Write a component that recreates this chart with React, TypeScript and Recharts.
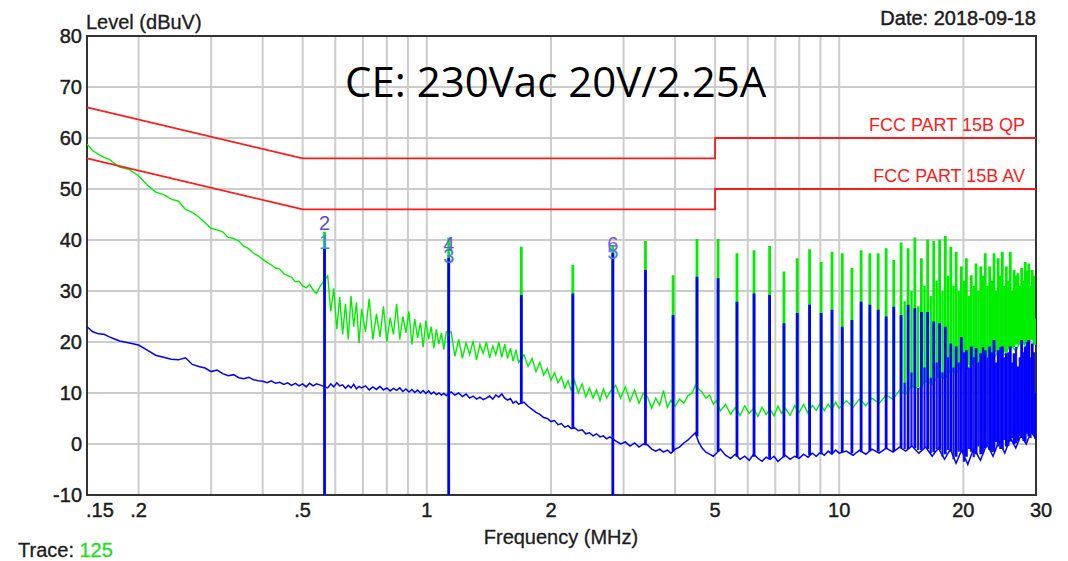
import React from 'react';
import { LineChart, Line, XAxis, YAxis, CartesianGrid, ReferenceArea, ReferenceDot } from 'recharts';

// ---- noise floor, region A (0.15 - 0.55 MHz)
const freqA = [0.15, 0.155, 0.16, 0.165, 0.17, 0.175, 0.18, 0.19, 0.2, 0.21, 0.22, 0.23, 0.24, 0.25, 0.26, 0.27, 0.28, 0.29, 0.30, 0.31, 0.32, 0.33, 0.34, 0.35, 0.36, 0.37, 0.38, 0.39, 0.40, 0.41, 0.42, 0.43, 0.44, 0.45, 0.46, 0.47, 0.48, 0.49, 0.50, 0.51, 0.52, 0.53, 0.54, 0.55];
const greenA = [58.8, 57.5, 56.8, 56.2, 55.8, 55.0, 54.3, 53.8, 52.6, 50.8, 49.4, 48.9, 48.0, 47.6, 46.0, 45.4, 44.5, 43.4, 42.3, 42.0, 41.6, 40.5, 40.3, 39.8, 38.8, 38.3, 37.4, 36.9, 36.2, 35.6, 35.1, 34.5, 34.3, 33.4, 33.0, 32.7, 31.8, 31.9, 31.0, 30.6, 31.3, 30.2, 29.5, 30.8];
const blueA = [23.0, 22.0, 21.6, 21.5, 21.0, 20.6, 20.2, 19.8, 19.4, 18.4, 17.4, 17.0, 16.6, 16.5, 16.9, 15.6, 15.2, 14.9, 14.2, 14.5, 13.8, 13.4, 13.6, 13.0, 12.8, 13.1, 12.6, 12.4, 12.3, 12.0, 12.4, 11.9, 12.1, 11.7, 12.0, 11.5, 11.9, 11.4, 11.8, 11.2, 11.9, 11.4, 11.8, 11.6];

// ---- region B (0.575 - 1.115 MHz)
const freqB = [0.575, 0.585, 0.595, 0.605, 0.615, 0.625, 0.635, 0.645, 0.655, 0.665, 0.675, 0.685, 0.695, 0.71, 0.725, 0.74, 0.755, 0.77, 0.785, 0.80, 0.815, 0.83, 0.845, 0.86, 0.875, 0.89, 0.905, 0.92, 0.935, 0.95, 0.965, 0.98, 0.995, 1.01, 1.025, 1.04, 1.055, 1.07, 1.085, 1.10, 1.115];
const greenB = [33.0, 26.0, 30.5, 22.5, 28.8, 21.5, 27.5, 20.5, 29.0, 23.0, 27.8, 19.8, 26.5, 22.0, 28.5, 20.5, 25.5, 21.0, 27.0, 20.0, 24.8, 21.5, 27.5, 20.5, 25.0, 21.8, 26.0, 19.5, 24.5, 20.8, 23.8, 19.0, 24.2, 20.5, 23.0, 18.8, 22.5, 19.6, 21.8, 18.5, 22.0];
const blueB = [11.0, 11.8, 11.2, 12.0, 11.4, 11.6, 10.9, 11.5, 11.0, 11.7, 10.8, 11.3, 11.0, 11.4, 10.6, 11.2, 10.7, 11.3, 10.6, 11.0, 10.4, 10.9, 10.5, 11.0, 10.3, 10.8, 10.2, 10.7, 10.1, 10.6, 10.0, 10.5, 9.9, 10.4, 9.8, 10.2, 9.7, 10.0, 9.6, 9.9, 9.5];

// ---- region C (1.145 - 2.78 MHz)
const freqC = [1.145, 1.17, 1.195, 1.22, 1.245, 1.27, 1.295, 1.32, 1.345, 1.37, 1.395, 1.42, 1.445, 1.47, 1.495, 1.52, 1.545, 1.57, 1.595, 1.62, 1.645, 1.67, 1.72, 1.76, 1.80, 1.84, 1.88, 1.92, 1.96, 2.00, 2.04, 2.08, 2.12, 2.16, 2.20, 2.24, 2.28, 2.33, 2.38, 2.43, 2.48, 2.53, 2.58, 2.63, 2.68, 2.73, 2.78];
const greenC = [22.0, 17.2, 20.5, 16.8, 19.8, 17.5, 20.2, 16.5, 19.5, 17.8, 20.0, 16.9, 19.2, 17.5, 20.0, 17.0, 19.6, 16.8, 18.8, 16.2, 18.5, 16.0, 17.5, 15.2, 16.8, 14.2, 16.0, 13.5, 14.8, 12.5, 14.0, 12.0, 13.2, 11.0, 12.4, 10.5, 12.5, 10.0, 11.8, 9.2, 11.0, 9.0, 10.6, 8.5, 10.8, 9.0, 10.2];
const blueC = [10.2, 9.6, 10.0, 9.3, 9.8, 9.0, 9.4, 8.8, 9.2, 8.7, 9.0, 9.4, 8.8, 9.6, 9.2, 9.8, 9.0, 8.6, 8.9, 8.0, 8.4, 7.8, 8.2, 7.4, 6.8, 6.2, 5.8, 5.2, 5.0, 4.4, 4.6, 3.8, 4.0, 3.3, 3.6, 3.0, 3.2, 2.6, 2.8, 2.0, 2.2, 1.6, 2.0, 1.4, 1.6, 1.0, 1.4];

// ---- region D (2.87 - 10 MHz)
const freqD = [2.87, 2.95, 3.03, 3.11, 3.19, 3.27, 3.35, 3.43, 3.51, 3.59, 3.67, 3.75, 3.83, 3.91, 4.0, 4.1, 4.2, 4.3, 4.4, 4.48, 4.56, 4.65, 4.75, 4.85, 4.95, 5.04, 5.15, 5.3, 5.45, 5.6, 5.75, 5.9, 6.05, 6.2, 6.35, 6.5, 6.65, 6.8, 6.95, 7.1, 7.25, 7.4, 7.6, 7.8, 8.0, 8.2, 8.4, 8.6, 8.8, 9.0, 9.2, 9.4, 9.6, 9.8, 10.0];
const greenD = [11.5, 9.0, 11.2, 8.4, 10.6, 8.0, 10.0, 9.2, 7.0, 9.0, 7.6, 10.5, 7.2, 8.6, 7.4, 8.8, 8.0, 9.5, 10.0, 11.5, 10.8, 10.2, 9.0, 9.6, 7.8, 8.5, 6.5, 7.8, 5.8, 7.2, 5.6, 7.5, 6.0, 7.0, 5.4, 7.2, 5.8, 6.8, 5.5, 7.4, 6.0, 7.0, 5.6, 7.5, 6.2, 7.8, 6.0, 7.6, 6.6, 8.0, 6.5, 7.8, 6.8, 8.2, 7.0];
const blueD = [0.6, 0.0, 0.4, -0.4, 0.2, -0.6, 0.0, -0.2, -1.0, -1.4, -1.0, -1.6, -1.2, -1.8, -1.0, -0.6, 0.2, 0.8, 1.6, 2.2, 0.4, -0.8, -1.6, -2.0, -2.4, -1.8, -1.0, -2.2, -2.8, -2.0, -3.0, -2.4, -3.2, -2.0, -2.8, -3.4, -2.6, -3.0, -2.4, -3.4, -2.8, -2.2, -3.0, -2.4, -2.8, -2.0, -2.6, -1.8, -2.4, -1.6, -2.2, -1.4, -2.0, -1.2, -1.8];

// ---- region E (10.4 - 30 MHz)
const freqE = [10.4, 10.8, 11.2, 11.6, 12.0, 12.5, 13.0, 13.5, 14.0, 14.5, 15, 15.6, 16.2, 16.8, 17.4, 18, 18.6, 19.2, 19.8, 20.5, 21.2, 22, 22.8, 23.6, 24.4, 25.2, 26, 26.8, 27.6, 28.4, 29.2, 30];
const greenE = [8.5, 7.2, 8.8, 7.5, 9.0, 8.0, 9.6, 8.8, 10.5, 9.8, 11.5, 10.8, 12.5, 11.6, 13.5, 12.8, 14.5, 13.8, 15.6, 14.8, 16.5, 15.8, 17.5, 16.6, 18.5, 17.5, 19.5, 18.2, 20.5, 19.0, 21.0, 19.5];
const blueE = [-1.4, -2.2, -1.2, -2.0, -1.0, -1.8, -0.8, -1.6, -0.6, -1.4, -0.4, -1.8, -0.6, -2.4, -0.8, -3.0, -1.0, -3.8, -1.2, -4.0, -0.8, -3.2, 0.0, -2.4, 0.6, -1.8, 1.2, -0.8, 1.8, 0.0, 2.4, 1.0];

// ---- harmonic spikes
const harmonicFreq = [0.565, 1.13, 1.695, 2.26, 2.825, 3.39, 3.955, 4.52, 5.085, 5.65, 6.215, 6.78, 7.345, 7.91, 8.475, 9.04, 9.605, 10.17, 10.735, 11.3, 11.865, 12.43, 12.995, 13.56, 14.125, 14.69, 15.255, 15.82, 16.385, 16.95, 17.515, 18.08, 18.645, 19.21, 19.775, 20.34, 20.905, 21.47, 22.035, 22.6, 23.165, 23.73, 24.295, 24.86, 25.425, 25.99, 26.555, 27.12, 27.685, 28.25, 28.815, 29.38, 29.945];
const greenPeak = [41.6, 40.5, 38.7, 35.1, 39.0, 39.8, 33.1, 40.2, 40.2, 37.4, 38.0, 38.8, 33.8, 36.4, 38.2, 35.7, 37.7, 37.4, 34.5, 38.0, 37.4, 37.4, 38.4, 36.1, 39.5, 38.4, 40.5, 36.4, 40.1, 39.8, 40.1, 40.8, 38.7, 37.7, 34.8, 36.4, 33.1, 35.4, 34.8, 37.4, 34.8, 37.4, 36.4, 37.7, 34.8, 37.7, 34.1, 33.5, 34.5, 35.7, 35.4, 34.1, 24.6];
const greenBase = [29.5, 20.0, 16.5, 11.5, 10.0, 9.5, 8.0, 11.0, 8.0, 6.5, 6.5, 6.3, 6.5, 6.8, 6.8, 7.2, 7.2, 7.8, 7.8, 8.2, 8.5, 8.5, 9.2, 9.2, 10.0, 10.2, 11.0, 11.2, 12.0, 12.0, 13.0, 13.0, 14.0, 14.0, 15.0, 15.0, 15.5, 16.0, 16.0, 17.0, 17.0, 17.0, 18.0, 18.0, 18.0, 19.0, 19.0, 19.5, 20.0, 19.5, 20.0, 20.5, 19.5];
const bluePeak = [38.5, 36.5, 29.2, 29.5, 37.5, 34.1, 25.3, 32.8, 32.5, 27.9, 29.5, 29.2, 23.7, 25.7, 27.3, 25.7, 26.3, 23.0, 24.3, 27.9, 27.3, 26.3, 25.0, 26.9, 25.3, 27.3, 26.6, 25.9, 25.9, 24.0, 23.7, 23.0, 19.7, 19.1, 21.0, 18.4, 19.1, 18.8, 17.8, 18.4, 19.1, 20.4, 18.4, 19.1, 17.8, 19.1, 17.8, 15.2, 20.4, 19.1, 20.4, 19.7, 10.0];
const blueBase = [-10, -10, 8.0, 3.0, -10, -0.2, -1.4, 1.5, -1.5, -2.5, -2.5, -3.0, -2.6, -2.6, -2.2, -2.0, -1.8, -1.6, -1.8, -1.6, -1.4, -1.5, -1.0, -1.4, -0.8, -1.0, -0.8, -1.2, -1.0, -1.6, -1.2, -2.0, -1.5, -2.5, -1.5, -2.5, -1.5, -2.0, -2.0, -0.8, -1.2, -1.5, -0.5, -1.0, -0.5, 0.5, 0.0, 0.5, 1.2, 0.5, 1.5, 2.0, 1.0];

// ---- secondary spikes between harmonics (14 - 30 MHz)
const midFreq = [14.41, 14.97, 15.54, 16.10, 16.67, 17.23, 17.80, 18.36, 18.93, 19.49, 20.06, 20.62, 21.19, 21.75, 22.32, 22.88, 23.45, 24.01, 24.58, 25.14, 25.71, 26.27, 26.84, 27.40, 27.97, 28.53, 29.10, 29.66];
const greenMidPeak = [28, 30, 27, 31, 29, 32, 30, 33, 31, 30, 32, 29, 31, 30, 33, 31, 32, 30, 33, 31, 32, 30, 33, 31, 32, 34, 31, 33];
const greenMidBase = [10.2, 11.0, 11.2, 12.0, 12.0, 13.0, 13.0, 14.0, 14.0, 15.0, 15.0, 15.5, 16.0, 16.0, 17.0, 17.0, 17.0, 18.0, 18.0, 18.0, 19.0, 19.0, 19.5, 20.0, 19.5, 20.0, 20.5, 19.5];
const blueMidPeak = [12, 14, 11, 15, 13, 16, 14, 17, 15, 16, 18, 15, 17, 16, 19, 17, 18, 16, 19, 17, 18, 16, 19, 17, 18, 20, 17, 18];
const blueMidBase = [-1.0, -0.6, -1.2, -0.8, -1.8, -1.0, -2.5, -1.2, -3.0, -1.5, -3.5, -1.0, -2.6, -0.5, -2.0, 0.0, -1.6, 0.4, -1.0, 0.8, -0.4, 1.2, 0.2, 1.6, 0.6, 2.0, 1.2, 1.6];

// ---- limits
const limitFreq = [0.15, 0.5, 5, 5, 30];
const qpLimit = [66, 56, 56, 60, 60];
const avLimit = [56, 46, 46, 50, 50];

// ---- axes / grid
const xTicks = [0.15, 0.2, 0.5, 1, 2, 5, 10, 20, 30];
const xTickLabels = ['.15', '.2', '.5', '1', '2', '5', '10', '20', '30'];
const yTicks = [-10, 0, 10, 20, 30, 40, 50, 60, 70, 80];
const gridFreqs = [0.2, 0.3, 0.4, 0.5, 0.6, 0.7, 0.8, 0.9, 1, 2, 3, 4, 5, 6, 7, 8, 9, 10, 20];
const gridLevels = [0, 10, 20, 30, 40, 50, 60, 70];

// ---- markers
const markerLabels = ['2', '1', '4', '3', '6', '5'];
const markerFreq = [0.565, 0.565, 1.13, 1.13, 2.825, 2.825];
const markerLevel = [43.4, 39.6, 39.2, 36.9, 39.2, 37.6];
const markerColors = ['#5a4fd0', '#3f8be8', '#6a55d8', '#4a6fe0', '#7a5ad8', '#4a7fe8'];

const FONT = '"Liberation Sans", Arial, sans-serif';
const TXT = '#1c1c1c';

const pairs = (fs: number[], vs: number[]) => fs.map((f, i) => ({ f, v: vs[i] }));
const greenFloor = [
  ...pairs(freqA, greenA), ...pairs(freqB, greenB), ...pairs(freqC, greenC),
  ...pairs(freqD, greenD), ...pairs(freqE, greenE),
];
const blueFloor = [
  ...pairs(freqA, blueA), ...pairs(freqB, blueB), ...pairs(freqC, blueC),
  ...pairs(freqD, blueD), ...pairs(freqE, blueE),
];
const spikes = (fs: number[], base: number[], peak: number[]) =>
  fs.flatMap((f, i) => [
    { f, v: base[i] as number | null },
    { f, v: peak[i] as number | null },
    { f, v: null as number | null },
  ]);
const greenSpikes = spikes(harmonicFreq, greenBase, greenPeak);
const blueSpikes = spikes(harmonicFreq, blueBase, bluePeak);
const greenMidSpikes = spikes(midFreq, greenMidBase, greenMidPeak);
const blueMidSpikes = spikes(midFreq, blueMidBase, blueMidPeak);
const qpData = pairs(limitFreq, qpLimit);
const avData = pairs(limitFreq, avLimit);

const XTick = (props: any) => {
  const { x, y, payload } = props;
  const i = xTicks.indexOf(payload.value);
  let anchor: 'start' | 'middle' = 'middle';
  let dx = 0;
  if (i === 0) { anchor = 'start'; dx = -1; }
  if (i === xTicks.length - 1) { dx = 5; }
  return (
    <text x={x + dx} y={y + 22} textAnchor={anchor} fontFamily={FONT} fontSize={20} fill={TXT} stroke={TXT} strokeWidth={0.45}>
      {xTickLabels[i]}
    </text>
  );
};

const YTick = (props: any) => {
  const { x, y, payload } = props;
  return (
    <text x={x} y={y + 7} textAnchor="end" fontFamily={FONT} fontSize={20} fill={TXT} stroke={TXT} strokeWidth={0.45}>
      {payload.value}
    </text>
  );
};

const lineProps = { dot: false, activeDot: false, isAnimationActive: false, type: 'linear' as const };

export default function App() {
  return (
    <div style={{ position: 'absolute', left: 0, top: 0, width: 1068, height: 561, background: '#fff' }}>
      <LineChart width={1068} height={561} margin={{ top: 36, right: 32, bottom: 36, left: 0 }}>
        <CartesianGrid
          stroke="#cccccc"
          strokeWidth={2}
          verticalValues={gridFreqs}
          horizontalValues={gridLevels}
        />
        <XAxis
          type="number"
          dataKey="f"
          scale="log"
          domain={[0.15, 30]}
          allowDataOverflow
          ticks={xTicks}
          tick={<XTick />}
          tickLine={false}
          axisLine={false}
          tickSize={0}
          tickMargin={0}
          height={30}
          interval={0}
        />
        <YAxis
          type="number"
          dataKey="v"
          domain={[-10, 80]}
          allowDataOverflow
          ticks={yTicks}
          tick={<YTick />}
          tickLine={false}
          axisLine={false}
          tickSize={0}
          tickMargin={5}
          width={87}
          interval={0}
        />
        <Line data={greenFloor} dataKey="v" stroke="#00ee00" strokeWidth={1.4} {...lineProps} />
        <Line data={greenMidSpikes} dataKey="v" stroke="#00ee00" strokeWidth={2.4} connectNulls={false} {...lineProps} />
        <Line data={greenSpikes} dataKey="v" stroke="#00ee00" strokeWidth={2.8} connectNulls={false} {...lineProps} />
        <Line data={blueFloor} dataKey="v" stroke="#0000ff" strokeWidth={1.5} {...lineProps} />
        <Line data={blueMidSpikes} dataKey="v" stroke="#1010ff" strokeWidth={2.2} connectNulls={false} {...lineProps} />
        <Line data={blueSpikes} dataKey="v" stroke="#0000ff" strokeWidth={2.8} connectNulls={false} {...lineProps} />
        <Line data={qpData} dataKey="v" stroke="#ff1a1a" strokeWidth={1.8} {...lineProps} />
        <Line data={avData} dataKey="v" stroke="#ff1a1a" strokeWidth={1.8} {...lineProps} />
        {markerLabels.map((m, i) => (
          <ReferenceDot
            key={i}
            x={markerFreq[i]}
            y={markerLevel[i]}
            r={0}
            fill="none"
            stroke="none"
            label={{ value: m, position: 'center', fill: markerColors[i], fontSize: 20, fontFamily: FONT }}
          />
        ))}
        <ReferenceArea x1={0.15} x2={30} y1={-10} y2={80} fill="none" stroke="#333333" strokeWidth={2} ifOverflow="visible" />
      </LineChart>
      <svg width={1068} height={561} style={{ position: 'absolute', left: 0, top: 0, pointerEvents: 'none' }}>
        <text x={86} y={29} fontFamily={FONT} fontSize={20} fill={TXT} stroke={TXT} strokeWidth={0.3}>Level (dBuV)</text>
        <text x={1036} y={25} textAnchor="end" fontFamily={FONT} fontSize={20} fill={TXT} stroke={TXT} strokeWidth={0.45}>Date: 2018-09-18</text>
        <text x={345} y={97} fontFamily={'"Open Sans", "Noto Sans", sans-serif'} fontSize={42} fill="#000">CE: 230Vac 20V/2.25A</text>
        <text x={1025} y={131} textAnchor="end" fontFamily={FONT} fontSize={18} fill="#ff1a1a">FCC PART 15B QP</text>
        <text x={1025} y={182} textAnchor="end" fontFamily={FONT} fontSize={18} fill="#ff1a1a">FCC PART 15B AV</text>
        <text x={561} y={544} textAnchor="middle" fontFamily={FONT} fontSize={20} fill={TXT} stroke={TXT} strokeWidth={0.3}>Frequency (MHz)</text>
        <text x={18} y={557} fontFamily={FONT} fontSize={20} fill={TXT} stroke={TXT} strokeWidth={0.3}>
          Trace: <tspan fill="#22dd22" stroke="#22dd22">125</tspan>
        </text>
      </svg>
    </div>
  );
}
